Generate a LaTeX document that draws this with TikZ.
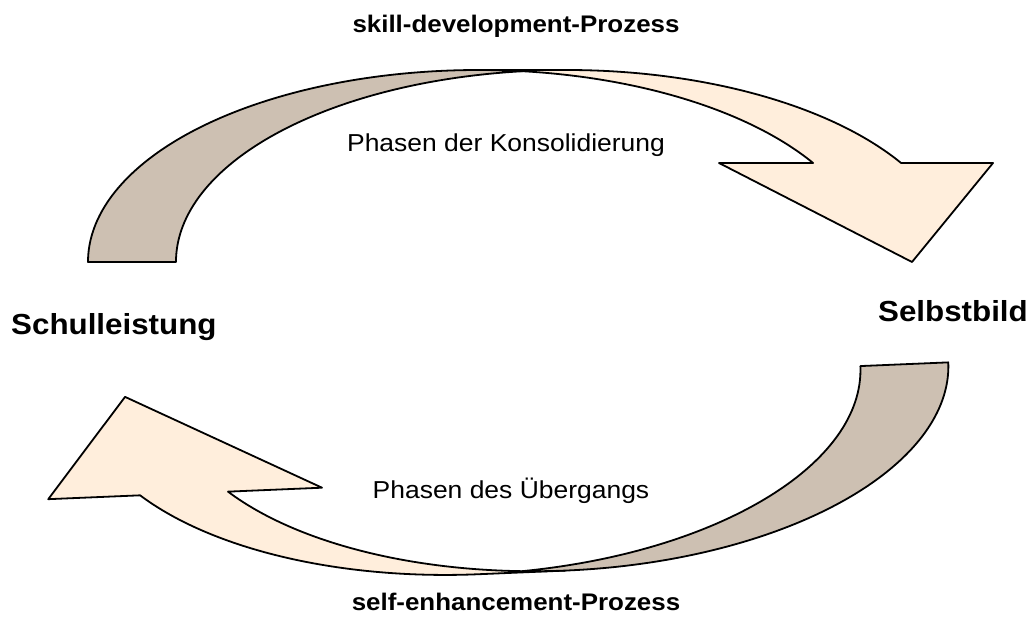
\documentclass[tikz,border=0pt]{standalone}
\usepackage{fontspec}
\setmainfont{Liberation Sans}[FakeStretch=1.08]
\definecolor{peach}{RGB}{255,238,220}
\definecolor{tanback}{RGB}{205,192,178}

% One curved ribbon arrow: back face on the left, front face with the head on the right.
% Both faces are bounded by two equal ellipses (radii 390.5 x 192) whose centres are 88 apart.
\newcommand\ribbonarrow{%
  \filldraw[frontface] (912,373) -- (719,472) -- (813.1,472)
     arc[start angle=31.04, end angle=90, x radius=390.5, y radius=192]
     -- (566.5,565)
     arc[start angle=90, end angle=31.04, x radius=390.5, y radius=192]
     -- (993,472) -- cycle;
  \filldraw[backface] (88,373)
     arc[start angle=180, end angle=83.53, x radius=390.5, y radius=192]
     arc[start angle=96.47, end angle=180, x radius=390.5, y radius=192]
     -- cycle;
}

\begin{document}
\begin{tikzpicture}[x=1pt, y=1pt,
  face/.style={draw=black, line width=1.8pt, line join=round},
  frontface/.style={face, fill=peach},
  backface/.style={face, fill=tanback},
  procname/.style={anchor=base, inner sep=0pt, font=\bfseries\fontsize{24}{28}\selectfont},
  sidename/.style={inner sep=0pt, font=\bfseries\fontsize{29}{34}\selectfont},
  phasename/.style={anchor=base, inner sep=0pt, font=\fontsize{24.5}{28}\selectfont},
]
\useasboundingbox (0,0) rectangle (1032,635);

% upper arrow (skill development)
\ribbonarrow
% lower arrow: the same ribbon turned about the centre of the cycle
\begin{scope}[rotate around={182.4:(517.1,313.8)}]
  \ribbonarrow
\end{scope}

\node[procname]  (skill)  at (516,602) {skill-development-Prozess};
\node[phasename] (kons)   at (506,483.3) {Phasen der Konsolidierung};
\node[sidename, anchor=base west] (schul)  at (11,301) {Schulleistung};
\node[sidename, anchor=base east] (selbst) at (1028,313) {Selbstbild};
\node[phasename] (ueber)  at (511,136.7) {Phasen des Übergangs};
\node[procname]  (self)   at (516,25) {self-enhancement-Prozess};
\end{tikzpicture}
\end{document}
